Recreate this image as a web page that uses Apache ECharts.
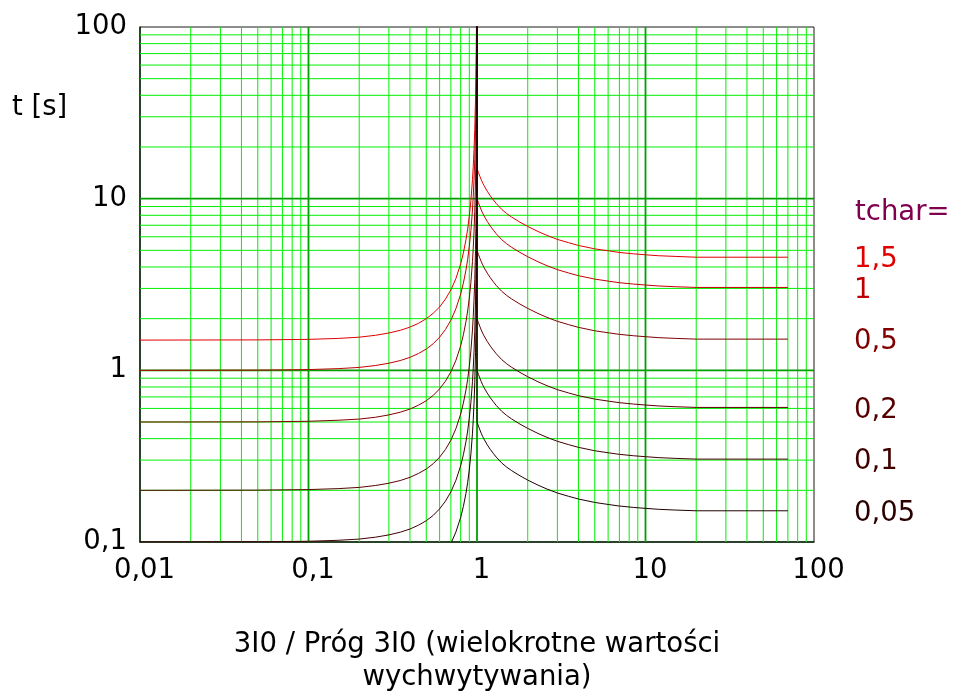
<!DOCTYPE html>
<html>
<head>
<meta charset="utf-8">
<script src="https://cdn.jsdelivr.net/npm/echarts@6/dist/echarts.min.js"></script>
<style>html,body{margin:0;padding:0;background:#fff;}#c{width:954px;height:692px;}</style>
</head>
<body>
<div id="c"></div>
<script>
// ---- data ----
const xLeft  = [0.01, 0.05, 0.1, 0.15, 0.2, 0.25, 0.3, 0.35, 0.4, 0.45, 0.5, 0.55, 0.6, 0.65, 0.7, 0.75, 0.8, 0.83, 0.86, 0.88, 0.9, 0.92, 0.94, 0.95, 0.96, 0.97, 0.98, 0.985, 0.99, 0.993, 0.995, 0.997, 0.998, 0.999, 0.9999];
const xRight = [1, 1.02, 1.04, 1.06, 1.08, 1.1, 1.15, 1.2, 1.25, 1.3, 1.4, 1.5, 1.6, 1.8, 2, 2.3, 2.6, 3, 3.5, 4, 5, 6, 7, 8.5, 10, 12, 15, 20, 70];

const tLeft_1_5  = [1.5, 1.504, 1.515, 1.534, 1.56, 1.6, 1.65, 1.71, 1.785, 1.88, 2.0, 2.15, 2.34, 2.6, 2.94, 3.43, 4.17, 4.83, 5.76, 6.65, 7.9, 9.77, 12.9, 15.4, 19.2, 25.4, 38, 50.4, 75.4, 107.6, 150, 250, 375, 750, 7500];
const tRight_1_5 = [15, 14.2, 13.5, 12.89, 12.36, 11.93, 11.06, 10.38, 9.84, 9.38, 8.67, 8.19, 7.83, 7.29, 6.89, 6.44, 6.11, 5.79, 5.54, 5.34, 5.10, 4.97, 4.86, 4.77, 4.71, 4.65, 4.61, 4.56, 4.56];
const tLeft_1    = [1.0, 1.0025, 1.01, 1.023, 1.04, 1.067, 1.1, 1.14, 1.19, 1.254, 1.33, 1.43, 1.56, 1.73, 1.96, 2.29, 2.78, 3.22, 3.84, 4.43, 5.26, 6.51, 8.59, 10.3, 12.8, 16.9, 25.3, 33.6, 50.3, 71.7, 100, 167, 250, 500, 5000];
const tRight_1   = [10, 9.47, 9.0, 8.59, 8.24, 7.95, 7.37, 6.92, 6.56, 6.25, 5.78, 5.46, 5.22, 4.86, 4.59, 4.29, 4.07, 3.86, 3.69, 3.56, 3.40, 3.31, 3.24, 3.18, 3.14, 3.10, 3.07, 3.04, 3.04];
const tLeft_0_5  = [0.5, 0.501, 0.505, 0.512, 0.52, 0.533, 0.55, 0.57, 0.595, 0.627, 0.665, 0.715, 0.78, 0.865, 0.98, 1.145, 1.39, 1.61, 1.92, 2.22, 2.63, 3.26, 4.3, 5.15, 6.4, 8.45, 12.65, 16.8, 25.2, 35.9, 50, 83.5, 125, 250, 2500];
const tRight_0_5 = [5, 4.735, 4.5, 4.295, 4.12, 3.975, 3.685, 3.46, 3.28, 3.125, 2.89, 2.73, 2.61, 2.43, 2.295, 2.145, 2.035, 1.93, 1.845, 1.78, 1.70, 1.655, 1.62, 1.59, 1.57, 1.55, 1.535, 1.52, 1.52];
const tLeft_0_2  = [0.2, 0.2005, 0.202, 0.2046, 0.208, 0.2134, 0.22, 0.228, 0.238, 0.251, 0.266, 0.286, 0.312, 0.346, 0.392, 0.458, 0.556, 0.644, 0.768, 0.886, 1.05, 1.3, 1.72, 2.06, 2.56, 3.38, 5.06, 6.72, 10.06, 14.3, 20, 33.4, 50, 100, 1000];
const tRight_0_2 = [2, 1.894, 1.8, 1.718, 1.648, 1.59, 1.474, 1.384, 1.312, 1.25, 1.156, 1.092, 1.044, 0.972, 0.918, 0.858, 0.814, 0.772, 0.738, 0.712, 0.68, 0.662, 0.648, 0.636, 0.628, 0.62, 0.614, 0.608, 0.608];
const tLeft_0_1  = [0.1, 0.1003, 0.101, 0.1023, 0.104, 0.1067, 0.11, 0.114, 0.119, 0.1254, 0.133, 0.143, 0.156, 0.173, 0.196, 0.229, 0.278, 0.322, 0.384, 0.443, 0.526, 0.651, 0.859, 1.03, 1.28, 1.69, 2.53, 3.36, 5.03, 7.17, 10, 16.7, 25, 50, 500];
const tRight_0_1 = [1, 0.947, 0.9, 0.859, 0.824, 0.795, 0.737, 0.692, 0.656, 0.625, 0.578, 0.546, 0.522, 0.486, 0.459, 0.429, 0.407, 0.386, 0.369, 0.356, 0.34, 0.331, 0.324, 0.318, 0.314, 0.31, 0.307, 0.304, 0.304];
const tLeft_0_05 = [0.05, 0.0501, 0.0505, 0.0512, 0.052, 0.0533, 0.055, 0.057, 0.0595, 0.0627, 0.0665, 0.0715, 0.078, 0.0865, 0.098, 0.1145, 0.139, 0.161, 0.192, 0.222, 0.263, 0.326, 0.43, 0.515, 0.64, 0.845, 1.265, 1.68, 2.52, 3.59, 5, 8.35, 12.5, 25, 250];
const tRight_0_05= [0.5, 0.4735, 0.45, 0.4295, 0.412, 0.3975, 0.3685, 0.346, 0.328, 0.3125, 0.289, 0.273, 0.261, 0.243, 0.2295, 0.2145, 0.2035, 0.193, 0.1845, 0.178, 0.17, 0.1655, 0.162, 0.159, 0.157, 0.155, 0.1535, 0.152, 0.152];

const seriesLabels = ['1,5', '1', '0,5', '0,2', '0,1', '0,05'];
const xTickLabels = {0.01: '0,01', 0.1: '0,1', 1: '1', 10: '10', 100: '100'};
const yTickLabels = {0.1: '0,1', 1: '1', 10: '10', 100: '100'};
const xName = '3I0 / Próg 3I0 (wielokrotne wartości\nwychwytywania)';
const yName = 't [s]';
const legendTitle = 'tchar=';

// ---- styling ----
const curveColors = ['#e00000', '#c00000', '#800000', '#5a0000', '#400000', '#200000'];
const labelColors = ['#e00000', '#c00000', '#800000', '#550000', '#400000', '#2a0000'];
const FONT = 'DejaVu Sans';
const FS = 27.5;

const curves = [
  [tLeft_1_5, tRight_1_5], [tLeft_1, tRight_1], [tLeft_0_5, tRight_0_5],
  [tLeft_0_2, tRight_0_2], [tLeft_0_1, tRight_0_1], [tLeft_0_05, tRight_0_05]
];

function build(l, r) {
  return xLeft.map((x, i) => [x, l[i]]).concat(xRight.map((x, i) => [x, r[i]]));
}

// log grid line positions
const minorX = [], minorY = [];
for (let d = -2; d <= 1; d++) for (let k = 2; k <= 9; k++) minorX.push(k * Math.pow(10, d));
for (let d = -1; d <= 1; d++) for (let k = 2; k <= 9; k++) minorY.push(k * Math.pow(10, d));
const majorX = [0.1, 1, 10];
const majorY = [1, 10];

function vLines(color, width) {
  return function (params, api) {
    const cs = params.coordSys;
    const x = api.coord([api.value(0), 1])[0];
    return {type: 'line', shape: {x1: x, y1: cs.y, x2: x, y2: cs.y + cs.height},
            style: {stroke: color, lineWidth: width}, silent: true};
  };
}
function hLines(color, width) {
  return function (params, api) {
    const cs = params.coordSys;
    const y = api.coord([1, api.value(1)])[1];
    return {type: 'line', shape: {x1: cs.x, y1: y, x2: cs.x + cs.width, y2: y},
            style: {stroke: color, lineWidth: width}, silent: true};
  };
}

const series = [
  {type: 'custom', silent: true, z: 1, renderItem: vLines('#00f000', 1), data: minorX.map(v => [v, 1]), encode: {x: 0, y: 1}},
  {type: 'custom', silent: true, z: 1, renderItem: hLines('#00f000', 1), data: minorY.map(v => [1, v]), encode: {x: 0, y: 1}},
  {type: 'custom', silent: true, z: 2, renderItem: vLines('#00a000', 1.8), data: majorX.map(v => [v, 1]), encode: {x: 0, y: 1}},
  {type: 'custom', silent: true, z: 2, renderItem: hLines('#00a000', 1.8), data: majorY.map(v => [1, v]), encode: {x: 0, y: 1}}
];

curves.forEach((c, i) => {
  series.push({
    type: 'line', data: build(c[0], c[1]), showSymbol: false, symbol: 'none',
    z: 5 + i, clip: true,
    lineStyle: {color: curveColors[i], width: 1},
    endLabel: {
      show: true, formatter: seriesLabels[i], color: labelColors[i],
      fontFamily: FONT, fontSize: FS, distance: 0, offset: [66, 3], align: 'left'
    }
  });
});

const chart = echarts.init(document.getElementById('c'), null, {renderer: 'canvas'});
chart.setOption({
  animation: false,
  backgroundColor: '#fff',
  grid: {left: 140, right: 140, top: 27, bottom: 150, show: true, borderColor: '#1a1a1a', borderWidth: 1, outerBoundsMode: 'none'},
  xAxis: {
    type: 'log', logBase: 10, min: 0.01, max: 100,
    axisLine: {show: true, onZero: false, lineStyle: {color: '#0a2a0a', width: 1.5}},
    axisTick: {show: false}, minorTick: {show: false},
    splitLine: {show: false}, minorSplitLine: {show: false},
    axisLabel: {
      fontFamily: FONT, fontSize: FS, color: '#000', margin: 15, padding: [0, 0, 0, 9],
      formatter: v => xTickLabels[+v.toPrecision(6)] ?? ''
    },
    name: xName, nameLocation: 'middle', nameGap: 86,
    nameTextStyle: {fontFamily: FONT, fontSize: FS, color: '#000', lineHeight: 33}
  },
  yAxis: {
    type: 'log', logBase: 10, min: 0.1, max: 100,
    axisLine: {show: true, onZero: false, lineStyle: {color: '#0a2a0a', width: 1.5}},
    axisTick: {show: false}, minorTick: {show: false},
    splitLine: {show: false}, minorSplitLine: {show: false},
    axisLabel: {
      fontFamily: FONT, fontSize: FS, color: '#000', margin: 13,
      formatter: v => yTickLabels[+v.toPrecision(6)] ?? ''
    }
  },
  graphic: [
    {type: 'text', left: 12, top: 94, style: {text: yName, fontFamily: FONT, fontSize: FS, fill: '#000'}},
    {type: 'text', left: 855, top: 199, style: {text: legendTitle, fontFamily: FONT, fontSize: FS, fill: '#800050'}}
  ],
  series: series
});
</script>
</body>
</html>
